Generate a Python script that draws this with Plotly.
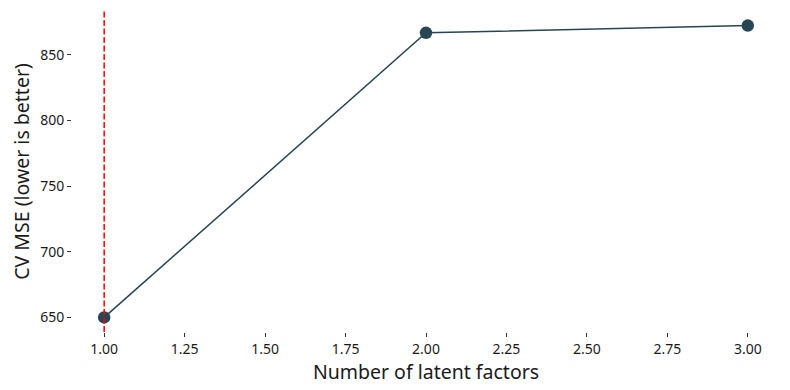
import plotly.graph_objects as go

n_factors = [1, 2, 3]
cv_mse = [650.0, 866.8, 872.3]
best_k = 1

x_ticks = [1.0, 1.25, 1.5, 1.75, 2.0, 2.25, 2.5, 2.75, 3.0]
x_ticklabels = ["1.00", "1.25", "1.50", "1.75", "2.00", "2.25", "2.50", "2.75", "3.00"]
y_ticks = [650, 700, 750, 800, 850]

color = "#264653"
font_fam = "Noto Sans, sans-serif"

fig = go.Figure()
fig.add_trace(go.Scatter(
    x=n_factors, y=cv_mse, mode="lines+markers",
    line=dict(color=color, width=1.5),
    marker=dict(color=color, size=12.5),
    showlegend=False,
))
fig.add_shape(type="line", xref="x", yref="paper", x0=best_k, x1=best_k, y0=0, y1=1,
              line=dict(color="red", width=1.5, dash="6px,2.5px"))

xmin, xmax = min(n_factors), max(n_factors)
xm = (xmax - xmin) * 0.05
ymin, ymax = min(cv_mse), max(cv_mse)
ym = (ymax - ymin) * 0.05

fig.update_layout(
    width=790, height=390,
    margin=dict(l=64, r=18, t=3, b=66, autoexpand=False),
    paper_bgcolor="white", plot_bgcolor="white",
    font=dict(family=font_fam, color="#1a1a1a", size=14),
)
fig.update_xaxes(
    range=[xmin - xm, xmax + xm], tickvals=x_ticks, ticktext=x_ticklabels,
    showgrid=False, zeroline=False, showline=False, automargin=False,
    ticks="outside", ticklen=4, tickwidth=1, tickcolor="#333333",
    tickfont=dict(size=14),
    title=dict(text="Number of latent factors", font=dict(size=19.5), standoff=3),
)
fig.update_yaxes(
    range=[ymin - ym, ymax + ym], tickvals=y_ticks,
    showgrid=False, zeroline=False, showline=False, automargin=False,
    ticks="outside", ticklen=4, tickwidth=1, tickcolor="#333333",
    tickfont=dict(size=14),
    title=dict(text="CV MSE (lower is better)", font=dict(size=19.5), standoff=14),
)

fig.write_html("out.html")
